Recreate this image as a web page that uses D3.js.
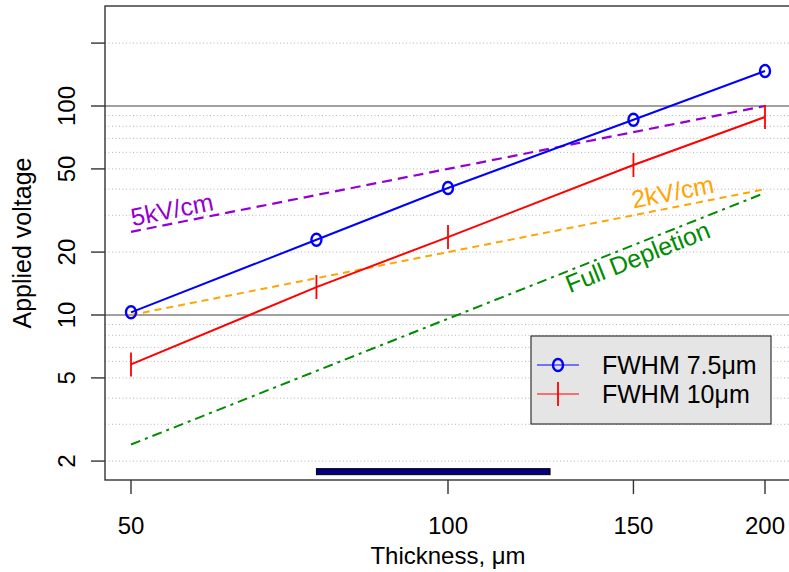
<!DOCTYPE html>
<html>
<head>
<meta charset="utf-8">
<script src="https://cdn.jsdelivr.net/npm/d3@7"></script>
<style>
  body { margin: 0; background: #fff; }
  svg { display: block; font-family: "Liberation Sans", Arial, sans-serif; }
</style>
</head>
<body>
<div id="chart"></div>
<script>
// thickness in um, voltage in V
const thickness = [50, 75, 100, 150, 200];
const fwhm75 = [10.3, 22.9, 40.5, 86, 147];
const fwhm10 = [5.8, 13.6, 23.6, 52.2, 88.6];
const field5kV = [25, 37.5, 50, 75, 100];
const field2kV = [10, 15, 20, 30, 40];
const depletion = [2.4, 5.4, 9.6, 21.6, 38.4];

const xTicks = [50, 100, 150, 200];
const yTicks = [2, 5, 10, 20, 50, 100, 200];
const yTickLabels = ['2', '5', '10', '20', '50', '100', ''];
const yGrid = [2, 3, 4, 5, 6, 7, 8, 9, 20, 30, 40, 50, 60, 70, 80, 90, 200];
const yMajor = [10, 100];

const barRange = [75, 125];
const barLevel = 1.78;

const lineLabels = [
  { text: '5kV/cm', t: 50.2, v: 26.6, color: '#9400D3', slopeOf: field5kV },
  { text: '2kV/cm', t: 150, v: 32.3, color: '#FFA500', slopeOf: field2kV },
  { text: 'Full Depletion', t: 130.5, v: 12.7, color: '#008B00', slopeOf: depletion }
];

const legendItems = ['FWHM 7.5\u03bcm', 'FWHM 10\u03bcm'];

const W = 789, H = 572;
const box = { left: 105, top: 6, right: 800, bottom: 480 };

const svg = d3.select('#chart').append('svg')
  .attr('width', W).attr('height', H);

const x = d3.scaleLog().domain([50, 200]).range([131, 765]);
const y = d3.scaleLog().domain([10, 100]).range([315, 106]);

// grid
svg.append('g').selectAll('line').data(yGrid).join('line')
  .attr('x1', box.left).attr('x2', box.right)
  .attr('y1', d => y(d)).attr('y2', d => y(d))
  .attr('stroke', '#b4b4b4').attr('stroke-width', 1)
  .attr('stroke-dasharray', '1,2.5');

svg.append('g').selectAll('line').data(yMajor).join('line')
  .attr('x1', box.left).attr('x2', box.right)
  .attr('y1', d => y(d)).attr('y2', d => y(d))
  .attr('stroke', '#808080').attr('stroke-width', 1.6);

// navy bar
svg.append('rect')
  .attr('x', x(barRange[0])).attr('width', x(barRange[1]) - x(barRange[0]))
  .attr('y', y(barLevel) - 3).attr('height', 6)
  .attr('fill', '#000080').attr('stroke', '#000').attr('stroke-width', 1);

function series(vals, color, dash, width) {
  const line = d3.line().x((d, i) => x(thickness[i])).y(d => y(d));
  svg.append('path').attr('d', line(vals))
    .attr('fill', 'none').attr('stroke', color)
    .attr('stroke-width', width)
    .attr('stroke-dasharray', dash);
}

series(field5kV, '#9400D3', '10,6', 2.2);
series(field2kV, '#FFA500', '7,5', 2);
series(depletion, '#008B00', '10,5,3,5', 2);
series(fwhm10, '#FF0000', null, 2);
series(fwhm75, '#0000FF', null, 2);

// markers
svg.append('g').selectAll('line').data(fwhm10).join('line')
  .attr('x1', (d, i) => x(thickness[i])).attr('x2', (d, i) => x(thickness[i]))
  .attr('y1', d => y(d) - 12).attr('y2', d => y(d) + 12)
  .attr('stroke', '#FF0000').attr('stroke-width', 1.8);

svg.append('g').selectAll('ellipse').data(fwhm75).join('ellipse')
  .attr('cx', (d, i) => x(thickness[i])).attr('cy', d => y(d))
  .attr('rx', 5).attr('ry', 6)
  .attr('fill', 'none').attr('stroke', '#0000FF').attr('stroke-width', 2.4);

// line labels rotated along their line
lineLabels.forEach(l => {
  const dx = x(thickness[4]) - x(thickness[0]);
  const dy = y(l.slopeOf[4]) - y(l.slopeOf[0]);
  const ang = Math.atan2(dy, dx) * 180 / Math.PI;
  svg.append('text')
    .attr('transform', `translate(${x(l.t)},${y(l.v)}) rotate(${ang})`)
    .attr('fill', l.color).attr('font-size', 25)
    .text(l.text);
});

// frame
svg.append('rect')
  .attr('x', box.left).attr('y', box.top)
  .attr('width', box.right - box.left).attr('height', box.bottom - box.top)
  .attr('fill', 'none').attr('stroke', '#333').attr('stroke-width', 1.4);

// x axis
const xg = svg.append('g');
xg.selectAll('line').data(xTicks).join('line')
  .attr('x1', d => x(d)).attr('x2', d => x(d))
  .attr('y1', box.bottom).attr('y2', box.bottom + 14)
  .attr('stroke', '#333').attr('stroke-width', 1.4);
xg.selectAll('text').data(xTicks).join('text')
  .attr('x', d => x(d)).attr('y', 534)
  .attr('text-anchor', 'middle').attr('font-size', 24)
  .text(d => d);
svg.append('text')
  .attr('x', 448).attr('y', 564)
  .attr('text-anchor', 'middle').attr('font-size', 24)
  .text('Thickness, \u03bcm');

// y axis
const yg = svg.append('g');
yg.selectAll('line').data(yTicks).join('line')
  .attr('x1', box.left - 14).attr('x2', box.left)
  .attr('y1', d => y(d)).attr('y2', d => y(d))
  .attr('stroke', '#333').attr('stroke-width', 1.4);
yg.selectAll('text').data(yTicks).join('text')
  .attr('transform', d => `translate(75,${y(d)}) rotate(-90)`)
  .attr('text-anchor', 'middle').attr('font-size', 24)
  .text((d, i) => yTickLabels[i]);
svg.append('text')
  .attr('transform', `translate(31,${y(10) - 72}) rotate(-90)`)
  .attr('text-anchor', 'middle').attr('font-size', 25)
  .text('Applied voltage');

// legend
const lg = svg.append('g');
lg.append('rect')
  .attr('x', 531).attr('y', 336).attr('width', 240).attr('height', 88)
  .attr('fill', '#e5e5e5').attr('stroke', '#333').attr('stroke-width', 1.2);
const ly = [365, 394];
lg.append('line').attr('x1', 537).attr('x2', 579).attr('y1', ly[0]).attr('y2', ly[0])
  .attr('stroke', '#0000FF').attr('stroke-width', 1.2);
lg.append('ellipse').attr('cx', 558).attr('cy', ly[0]).attr('rx', 5).attr('ry', 6)
  .attr('fill', 'none').attr('stroke', '#0000FF').attr('stroke-width', 2.4);
lg.append('line').attr('x1', 537).attr('x2', 579).attr('y1', ly[1]).attr('y2', ly[1])
  .attr('stroke', '#FF0000').attr('stroke-width', 1.2);
lg.append('line').attr('x1', 558).attr('x2', 558).attr('y1', ly[1] - 12).attr('y2', ly[1] + 12)
  .attr('stroke', '#FF0000').attr('stroke-width', 1.8);
lg.selectAll('text.leg').data(legendItems).join('text')
  .attr('class', 'leg')
  .attr('x', 602).attr('y', (d, i) => ly[i] + 9)
  .attr('font-size', 25)
  .text(d => d);
</script>
</body>
</html>
